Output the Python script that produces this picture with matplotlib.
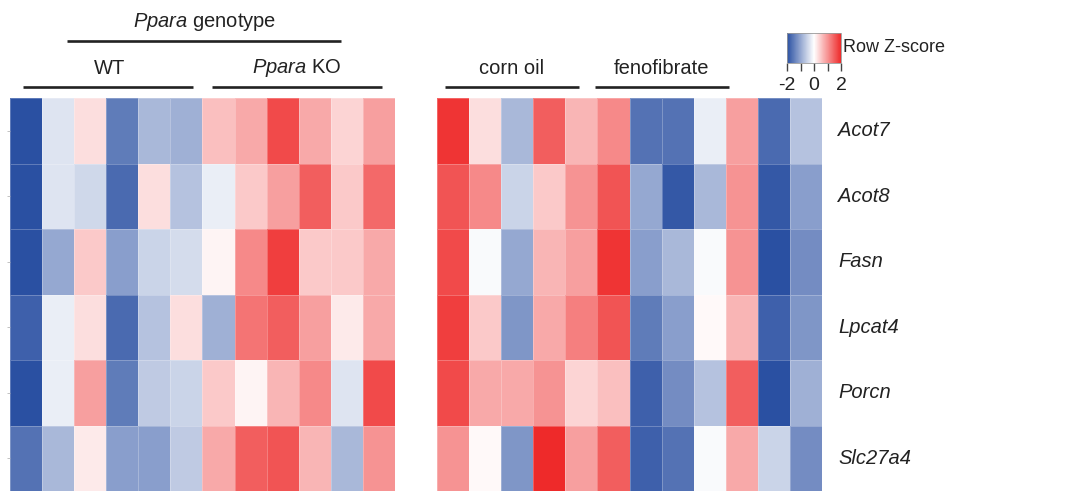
import matplotlib
matplotlib.use('Agg')
import matplotlib.pyplot as plt
import numpy as np
from matplotlib.colors import LinearSegmentedColormap
from matplotlib.lines import Line2D

genes = ['Acot7', 'Acot8', 'Fasn', 'Lpcat4', 'Porcn', 'Slc27a4']

# row z-scores, WT (6) then Ppara KO (6)
geno_z = np.array([
    [-2.0, -0.3, 0.3, -1.5, -0.8, -0.9, 0.6, 0.8, 1.7, 0.8, 0.4, 0.9],
    [-2.0, -0.3, -0.45, -1.7, 0.3, -0.7, -0.2, 0.5, 0.9, 1.5, 0.5, 1.4],
    [-2.0, -1.0, 0.5, -1.1, -0.5, -0.4, 0.1, 1.1, 1.8, 0.5, 0.5, 0.8],
    [-1.8, -0.2, 0.3, -1.7, -0.7, 0.3, -0.9, 1.3, 1.5, 0.9, 0.2, 0.8],
    [-2.0, -0.2, 0.9, -1.5, -0.6, -0.5, 0.5, 0.1, 0.7, 1.1, -0.3, 1.7],
    [-1.6, -0.8, 0.2, -1.1, -1.1, -0.6, 0.8, 1.5, 1.6, 0.7, -0.8, 1.0],
])

# row z-scores, corn oil (6) then fenofibrate (6)
feno_z = np.array([
    [1.9, 0.3, -0.8, 1.5, 0.7, 1.1, -1.6, -1.6, -0.2, 0.9, -1.7, -0.7],
    [1.6, 1.1, -0.5, 0.5, 1.0, 1.6, -1.0, -1.9, -0.8, 1.0, -1.9, -1.1],
    [1.7, -0.05, -1.0, 0.7, 0.9, 1.9, -1.1, -0.8, -0.05, 1.0, -2.0, -1.3],
    [1.8, 0.5, -1.2, 0.8, 1.2, 1.6, -1.5, -1.1, 0.05, 0.7, -1.8, -1.2],
    [1.7, 0.8, 0.8, 1.0, 0.4, 0.6, -1.8, -1.3, -0.7, 1.5, -2.0, -0.9],
    [1.0, 0.05, -1.2, 2.0, 0.9, 1.5, -1.8, -1.6, -0.05, 0.8, -0.5, -1.3],
])

W, H = 1080, 491
plt.rcParams['font.family'] = ['Liberation Sans', 'DejaVu Sans']
plt.rcParams['mathtext.fontset'] = 'custom'
plt.rcParams['mathtext.it'] = 'Liberation Sans:italic'
plt.rcParams['mathtext.rm'] = 'Liberation Sans'
cmap = LinearSegmentedColormap.from_list('bwr2', ['#2A50A2', '#FFFFFF', '#EE2A2A'])

fig = plt.figure(figsize=(W / 100, H / 100), dpi=100)


def fx(x, y):
    return x / W, 1 - y / H


def bar(x0, x1, y):
    a, b = fx(x0, y)
    c, _ = fx(x1, y)
    fig.add_artist(Line2D([a, c], [b, b], transform=fig.transFigure,
                          color='#222222', lw=1.9, solid_capstyle='butt'))


def label(x, y, s, size=14.5):
    a, b = fx(x, y)
    fig.text(a, b, s, ha='center', va='center', fontsize=size, color='#222222')


# heatmaps
axL = fig.add_axes([10 / W, 0, 385 / W, 393 / H])
axR = fig.add_axes([437 / W, 0, 385 / W, 393 / H])
for ax, z in ((axL, geno_z), (axR, feno_z)):
    mesh = ax.pcolormesh(z, cmap=cmap, vmin=-2, vmax=2,
                         edgecolors=(1, 1, 1, 0.25), linewidth=0.4)
    ax.set_xlim(0, 12)
    ax.set_ylim(6, 0)
    ax.set_xticks([])
    ax.set_yticks([])
    for s in ax.spines.values():
        s.set_visible(False)
axL.set_yticks(np.arange(6) + 0.5)
axL.set_yticklabels([])
axL.tick_params(axis='y', length=2, width=0.5, color='#aaaaaa', pad=0)

for i, g in enumerate(genes):
    axR.text(1.042, 1 - (i + 0.5) / 6, g, transform=axR.transAxes,
             ha='left', va='center', fontsize=14.5, style='italic',
             color='#222222')

# group headers
label(205, 22, r'$\it{Ppara}$ genotype')
bar(67, 341, 41)
label(110, 68, 'WT')
bar(23, 193, 87)
label(297, 68, r'$\it{Ppara}$ KO')
bar(212, 382, 87)
label(512, 68, 'corn oil')
bar(445, 579, 87)
label(662, 68, 'fenofibrate')
bar(595, 729, 87)

# colour key
cax = fig.add_axes([787 / W, (H - 63) / H, 54 / W, 30 / H])
cb = fig.colorbar(mesh, cax=cax, orientation='horizontal',
                  ticks=[-2, -1, 0, 1, 2])
cb.ax.set_xticklabels(['-2', '', '0', '', '2'])
cb.ax.tick_params(labelsize=14, length=6, width=1, color='#444444',
                  labelcolor='#222222', pad=4)
cb.outline.set_edgecolor('#999999')
cb.outline.set_linewidth(0.6)
a, b = fx(843, 48)
fig.text(a, b, 'Row Z-score', ha='left', va='center', fontsize=13,
         color='#222222')

fig.savefig('out.png', dpi=100)
